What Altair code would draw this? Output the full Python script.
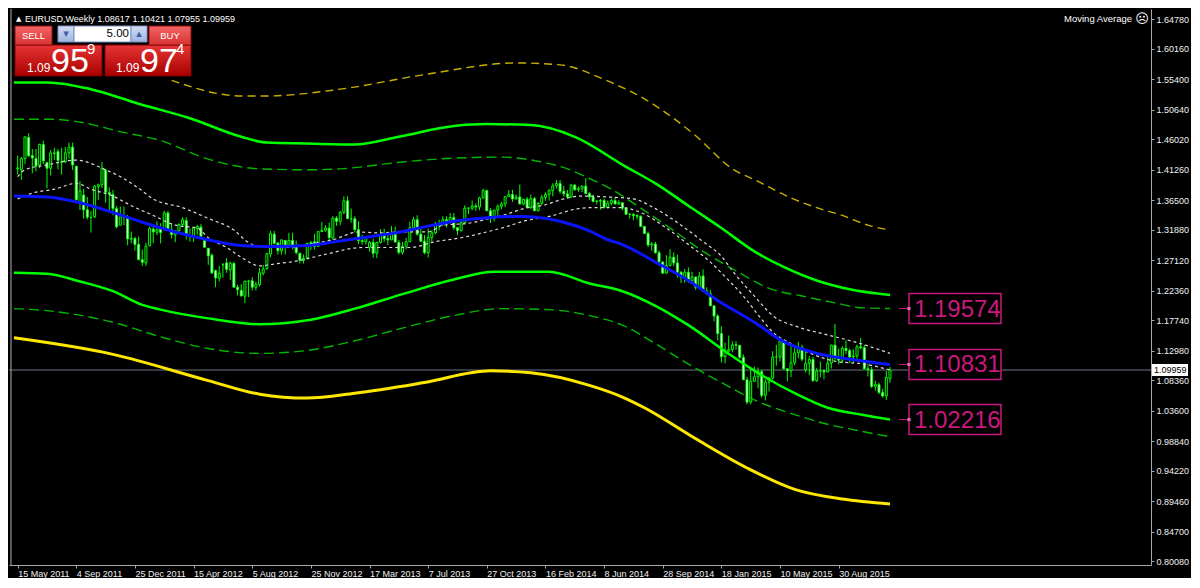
import altair as alt
import numpy as np
import pandas as pd

W, H = 1142, 556
FONT = "Liberation Sans"

SYMBOL = "EURUSD,Weekly"
FIRST_BAR = "2011-05-15"
VIEW_START = "2011-05-08"
VIEW_END = "2017-04-08"
BID = 1.09959
ASK = 1.09974
LOT = "5.00"
INDICATOR = "Moving Average"

# ---------------- weekly candles (Sunday-start weeks) ----------------
OPEN = [
    1.4140, 1.4125, 1.4300, 1.4630, 1.4345, 1.4300, 1.4200, 1.4520, 1.4240, 1.4150,
    1.4380, 1.4410, 1.4250, 1.4250, 1.4390, 1.4480, 1.4180, 1.3600, 1.3730, 1.3500,
    1.3380, 1.3390, 1.3860, 1.3890, 1.4120, 1.3770, 1.3740, 1.3520, 1.3260, 1.3390,
    1.3370, 1.3040, 1.3050,
    1.2960, 1.2720, 1.2670, 1.2940, 1.3200, 1.3150, 1.3200, 1.3200, 1.3450, 1.3190,
    1.3110, 1.3170, 1.3270, 1.3330, 1.3100, 1.3070, 1.3210, 1.3230, 1.3020, 1.2900,
    1.2790, 1.2550, 1.2430, 1.2640, 1.2670, 1.2560, 1.2660, 1.2290, 1.2240, 1.2150,
    1.2380, 1.2390, 1.2290, 1.2330, 1.2510, 1.2580, 1.2810, 1.3120, 1.2980, 1.2860,
    1.3020, 1.2950, 1.3020, 1.2940, 1.2820, 1.2710, 1.2750, 1.2970, 1.3000, 1.2930,
    1.3160, 1.3180, 1.3215,
    1.3060, 1.3370, 1.3320, 1.3460, 1.3640, 1.3360, 1.3360, 1.3190, 1.3020, 1.3000,
    1.2910, 1.2990, 1.2820, 1.2990, 1.3110, 1.3050, 1.3030, 1.3115, 1.2990, 1.2835,
    1.2930, 1.3000, 1.3220, 1.3345, 1.3120, 1.3010, 1.2830, 1.3065, 1.3140, 1.3275,
    1.3280, 1.3345, 1.3325, 1.3380, 1.3220, 1.3175, 1.3300, 1.3525, 1.3525, 1.3560,
    1.3545, 1.3685, 1.3800, 1.3485, 1.3365, 1.3495, 1.3555, 1.3590, 1.3705, 1.3740,
    1.3670, 1.3700,
    1.3590, 1.3665, 1.3535, 1.3675, 1.3485, 1.3600, 1.3695, 1.3740, 1.3800, 1.3875,
    1.3910, 1.3790, 1.3750, 1.3700, 1.3885, 1.3815, 1.3830, 1.3870, 1.3755, 1.3700,
    1.3630, 1.3635, 1.3645, 1.3540, 1.3605, 1.3645, 1.3590, 1.3610, 1.3525, 1.3430,
    1.3430, 1.3410, 1.3400, 1.3240, 1.3130, 1.2950, 1.2965, 1.2830, 1.2685, 1.2510,
    1.2630, 1.2760, 1.2670, 1.2525, 1.2445, 1.2525, 1.2390, 1.2450, 1.2290, 1.2465,
    1.2230, 1.2190,
    1.2000, 1.1840, 1.1565, 1.1205, 1.1290, 1.1315, 1.1390, 1.1380, 1.1195, 1.0845,
    1.0495, 1.0820, 1.0890, 1.0970, 1.0600, 1.0805, 1.0870, 1.1200, 1.1200, 1.1450,
    1.1015, 1.0985, 1.1110, 1.1265, 1.1350, 1.1000, 1.1100, 1.1160, 1.0830, 1.0980,
    1.0985, 1.0965, 1.1105, 1.1385, 1.1180, 1.1150, 1.1335, 1.1300, 1.1200, 1.1215,
    1.1360, 1.1345, 1.1015, 1.1000, 1.0740, 1.0770, 1.0645, 1.0590, 1.08617,
]
HIGH = [
    1.4345, 1.4325, 1.4640, 1.4697, 1.4450, 1.4450, 1.4535, 1.4580, 1.4240, 1.4435,
    1.4470, 1.4450, 1.4470, 1.4480, 1.4550, 1.4550, 1.4190, 1.3950, 1.3830, 1.3700,
    1.3480, 1.3890, 1.3910, 1.4245, 1.4140, 1.3850, 1.3810, 1.3560, 1.3550, 1.3550,
    1.3420, 1.3160, 1.3080,
    1.3080, 1.2880, 1.2985, 1.3235, 1.3235, 1.3320, 1.3290, 1.3485, 1.3485, 1.3290,
    1.3170, 1.3290, 1.3385, 1.3385, 1.3210, 1.3220, 1.3265, 1.3280, 1.3050, 1.2900,
    1.2820, 1.2565, 1.2625, 1.2670, 1.2745, 1.2690, 1.2690, 1.2330, 1.2340, 1.2390,
    1.2405, 1.2445, 1.2380, 1.2590, 1.2640, 1.2820, 1.3170, 1.3170, 1.3000, 1.3035,
    1.3030, 1.3140, 1.3140, 1.3020, 1.2830, 1.2800, 1.2985, 1.3015, 1.3125, 1.3160,
    1.3310, 1.3260, 1.3300,
    1.3400, 1.3400, 1.3480, 1.3710, 1.3710, 1.3520, 1.3400, 1.3320, 1.3110, 1.3090,
    1.3015, 1.3050, 1.3000, 1.3200, 1.3205, 1.3110, 1.3245, 1.3240, 1.3030, 1.3000,
    1.3060, 1.3310, 1.3390, 1.3415, 1.3200, 1.3105, 1.3205, 1.3180, 1.3310, 1.3345,
    1.3400, 1.3400, 1.3450, 1.3450, 1.3225, 1.3350, 1.3570, 1.3540, 1.3645, 1.3600,
    1.3705, 1.3830, 1.3815, 1.3530, 1.3500, 1.3580, 1.3620, 1.3715, 1.3810, 1.3810,
    1.3740, 1.3895,
    1.3675, 1.3700, 1.3740, 1.3700, 1.3620, 1.3735, 1.3775, 1.3825, 1.3915, 1.3965,
    1.3965, 1.3875, 1.3810, 1.3905, 1.3905, 1.3865, 1.3885, 1.3995, 1.3775, 1.3735,
    1.3655, 1.3670, 1.3675, 1.3645, 1.3675, 1.3700, 1.3650, 1.3620, 1.3545, 1.3445,
    1.3445, 1.3435, 1.3410, 1.3240, 1.3160, 1.2995, 1.3000, 1.2865, 1.2690, 1.2790,
    1.2885, 1.2835, 1.2800, 1.2540, 1.2575, 1.2600, 1.2530, 1.2455, 1.2530, 1.2570,
    1.2290, 1.2250,
    1.2000, 1.1870, 1.1680, 1.1425, 1.1535, 1.1445, 1.1450, 1.1390, 1.1240, 1.0890,
    1.1045, 1.1050, 1.1035, 1.1000, 1.0850, 1.0890, 1.1290, 1.1390, 1.1465, 1.1460,
    1.1025, 1.1380, 1.1385, 1.1435, 1.1390, 1.1280, 1.1215, 1.1205, 1.1025, 1.1130,
    1.1000, 1.1215, 1.1390, 1.1715, 1.1330, 1.1370, 1.1460, 1.1330, 1.1320, 1.1390,
    1.1495, 1.1390, 1.1095, 1.1045, 1.0830, 1.0800, 1.0700, 1.0980, 1.10421,
]
LOW = [
    1.4050, 1.3968, 1.4217, 1.4330, 1.4070, 1.4100, 1.4150, 1.4215, 1.3837, 1.4036,
    1.4280, 1.4130, 1.4050, 1.4230, 1.4300, 1.4120, 1.3650, 1.3495, 1.3360, 1.3350,
    1.3145, 1.3370, 1.3655, 1.3840, 1.3610, 1.3480, 1.3420, 1.3210, 1.3260, 1.3260,
    1.2945, 1.2980, 1.2860,
    1.2720, 1.2625, 1.2625, 1.2930, 1.2980, 1.3105, 1.2975, 1.3170, 1.3185, 1.3050,
    1.2995, 1.3140, 1.3230, 1.3035, 1.3003, 1.3000, 1.3110, 1.3040, 1.2910, 1.2640,
    1.2495, 1.2290, 1.2380, 1.2440, 1.2515, 1.2405, 1.2290, 1.2160, 1.2145, 1.2040,
    1.2135, 1.2240, 1.2240, 1.2300, 1.2475, 1.2560, 1.2760, 1.2960, 1.2800, 1.2800,
    1.2800, 1.2930, 1.2880, 1.2800, 1.2660, 1.2660, 1.2740, 1.2870, 1.2880, 1.2925,
    1.3150, 1.3160, 1.3000,
    1.3030, 1.3250, 1.3260, 1.3430, 1.3350, 1.3300, 1.3145, 1.2965, 1.2955, 1.2955,
    1.2845, 1.2750, 1.2745, 1.2975, 1.3000, 1.2950, 1.3025, 1.2995, 1.2800, 1.2800,
    1.2880, 1.3000, 1.3200, 1.3100, 1.3000, 1.2805, 1.2755, 1.3000, 1.3120, 1.3180,
    1.3245, 1.3225, 1.3300, 1.3185, 1.3105, 1.3160, 1.3300, 1.3435, 1.3490, 1.3485,
    1.3495, 1.3680, 1.3480, 1.3295, 1.3320, 1.3400, 1.3510, 1.3540, 1.3700, 1.3625,
    1.3660, 1.3590,
    1.3570, 1.3530, 1.3510, 1.3480, 1.3475, 1.3575, 1.3640, 1.3645, 1.3710, 1.3830,
    1.3750, 1.3705, 1.3670, 1.3690, 1.3795, 1.3780, 1.3775, 1.3750, 1.3650, 1.3615,
    1.3585, 1.3500, 1.3520, 1.3525, 1.3570, 1.3590, 1.3580, 1.3490, 1.3420, 1.3365,
    1.3335, 1.3350, 1.3235, 1.3130, 1.2920, 1.2860, 1.2815, 1.2680, 1.2500, 1.2500,
    1.2615, 1.2620, 1.2440, 1.2355, 1.2360, 1.2360, 1.2360, 1.2245, 1.2270, 1.2220,
    1.2165, 1.2000,
    1.1755, 1.1460, 1.1115, 1.1100, 1.1270, 1.1270, 1.1315, 1.1175, 1.0840, 1.0460,
    1.0460, 1.0810, 1.0710, 1.0565, 1.0520, 1.0660, 1.0850, 1.1065, 1.1130, 1.1005,
    1.0820, 1.0885, 1.1070, 1.1180, 1.1135, 1.0955, 1.0915, 1.0810, 1.0810, 1.0880,
    1.0850, 1.0960, 1.1020, 1.1155, 1.1085, 1.1105, 1.1245, 1.1105, 1.1100, 1.1150,
    1.1320, 1.1005, 1.0895, 1.0710, 1.0675, 1.0620, 1.0565, 1.0525, 1.07955,
]
CLOSE = [
    1.4155, 1.4300, 1.4640, 1.4345, 1.4310, 1.4185, 1.4520, 1.4265, 1.4150, 1.4390,
    1.4390, 1.4270, 1.4240, 1.4390, 1.4480, 1.4200, 1.3655, 1.3795, 1.3500, 1.3385,
    1.3380, 1.3870, 1.3890, 1.4150, 1.3775, 1.3745, 1.3520, 1.3235, 1.3390, 1.3380,
    1.3045, 1.3055, 1.2960,
    1.2720, 1.2680, 1.2930, 1.3210, 1.3155, 1.3190, 1.3145, 1.3450, 1.3200, 1.3115,
    1.3170, 1.3270, 1.3345, 1.3100, 1.3080, 1.3215, 1.3240, 1.3085, 1.2915, 1.2780,
    1.2515, 1.2435, 1.2510, 1.2640, 1.2570, 1.2665, 1.2290, 1.2250, 1.2155, 1.2385,
    1.2385, 1.2290, 1.2335, 1.2515, 1.2575, 1.2815, 1.3125, 1.2975, 1.2860, 1.3030,
    1.2950, 1.3020, 1.2940, 1.2830, 1.2710, 1.2740, 1.2975, 1.2990, 1.2925, 1.3160,
    1.3180, 1.3215, 1.3065,
    1.3370, 1.3320, 1.3460, 1.3640, 1.3365, 1.3360, 1.3190, 1.3020, 1.3005, 1.3075,
    1.2990, 1.2820, 1.2990, 1.3110, 1.3050, 1.3030, 1.3115, 1.2995, 1.2835, 1.2930,
    1.3000, 1.3220, 1.3345, 1.3120, 1.3010, 1.2830, 1.3065, 1.3140, 1.3275, 1.3280,
    1.3345, 1.3325, 1.3380, 1.3220, 1.3175, 1.3300, 1.3525, 1.3525, 1.3560, 1.3545,
    1.3685, 1.3800, 1.3485, 1.3365, 1.3495, 1.3555, 1.3590, 1.3705, 1.3740, 1.3670,
    1.3700, 1.3590,
    1.3665, 1.3535, 1.3675, 1.3485, 1.3600, 1.3695, 1.3740, 1.3800, 1.3875, 1.3910,
    1.3790, 1.3750, 1.3700, 1.3885, 1.3815, 1.3830, 1.3870, 1.3755, 1.3700, 1.3630,
    1.3635, 1.3645, 1.3540, 1.3605, 1.3645, 1.3590, 1.3610, 1.3525, 1.3430, 1.3430,
    1.3410, 1.3400, 1.3240, 1.3130, 1.2950, 1.2965, 1.2830, 1.2685, 1.2510, 1.2630,
    1.2760, 1.2670, 1.2525, 1.2445, 1.2525, 1.2390, 1.2450, 1.2290, 1.2465, 1.2230,
    1.2190, 1.2000,
    1.1840, 1.1565, 1.1205, 1.1290, 1.1315, 1.1390, 1.1380, 1.1195, 1.0845, 1.0495,
    1.0820, 1.0890, 1.0970, 1.0600, 1.0805, 1.0870, 1.1200, 1.1200, 1.1450, 1.1015,
    1.0985, 1.1110, 1.1265, 1.1350, 1.1165, 1.1100, 1.1160, 1.0830, 1.0980, 1.0985,
    1.0965, 1.1105, 1.1385, 1.1180, 1.1150, 1.1335, 1.1300, 1.1200, 1.1215, 1.1360,
    1.1345, 1.1015, 1.1000, 1.0740, 1.0770, 1.0645, 1.0590, 1.0880, 1.09959,
]

# ---------------- indicator lines (week index from FIRST_BAR, price) ----------------
GSU_WEEK = [-1, 8, 20, 33, 47, 61, 68, 79, 92, 104, 119, 128, 140, 152, 166, 174, 183, 192, 201, 209, 218, 227, 238]
GSU_PRICE = [1.5491, 1.5491, 1.5385, 1.5157, 1.4930, 1.4641, 1.4550, 1.4535, 1.4520, 1.4641, 1.4808, 1.4839,
             1.4824, 1.4641, 1.4171, 1.3913, 1.3564, 1.3215, 1.2850, 1.2607, 1.2395, 1.2258, 1.2167]

GDU_WEEK = [-1, 9, 21, 26, 39, 52, 66, 79, 88, 105, 119, 132, 143, 150, 156, 162, 169, 178, 187, 196, 205, 214, 223, 230, 238]
GDU_PRICE = [1.4915, 1.4915, 1.4824, 1.4748, 1.4581, 1.4292, 1.4140, 1.4125, 1.4140, 1.4247, 1.4307, 1.4323,
             1.4247, 1.4140, 1.3989, 1.3822, 1.3564, 1.3215, 1.2850, 1.2547, 1.2273, 1.2152, 1.2046, 1.1970, 1.1957]

MA_WEEK = [-1, 8, 17, 26, 34, 43, 52, 61, 70, 79, 85, 94, 103, 112, 121, 129, 138, 144, 149, 156, 161, 165,
           174, 183, 192, 201, 209, 218, 227, 238]
MA_PRICE = [1.3715, 1.3700, 1.3609, 1.3457, 1.3306, 1.3154, 1.3032, 1.2941, 1.2926, 1.2941, 1.2987, 1.3063,
            1.3139, 1.3245, 1.3336, 1.3381, 1.3397, 1.3366, 1.3306, 1.3169, 1.3032, 1.2957, 1.2683, 1.2395,
            1.2046, 1.1742, 1.1439, 1.1256, 1.1165, 1.1083]

GSL_WEEK = [-1, 8, 17, 26, 34, 39, 52, 66, 79, 92, 105, 119, 130, 145, 156, 165, 174, 183, 194, 203, 212, 221, 230, 238]
GSL_PRICE = [1.2516, 1.2501, 1.2380, 1.2228, 1.2015, 1.1940, 1.1803, 1.1712, 1.1773, 1.1955, 1.2182, 1.2410,
             1.2531, 1.2531, 1.2349, 1.2228, 1.2000, 1.1697, 1.1250, 1.0915, 1.0634, 1.0406, 1.0300, 1.0222]

GDL_WEEK = [-1, 8, 26, 39, 52, 66, 79, 92, 105, 119, 132, 145, 156, 165, 174, 183, 192, 201, 212, 221, 230, 238]
GDL_PRICE = [1.1955, 1.1924, 1.1742, 1.1515, 1.1332, 1.1256, 1.1302, 1.1454, 1.1651, 1.1848, 1.1955, 1.1940,
             1.1848, 1.1697, 1.1408, 1.1089, 1.0801, 1.0528, 1.0300, 1.0148, 1.0042, 0.9951]

YSL_WEEK = [-1, 26, 52, 66, 79, 92, 111, 129, 140, 156, 165, 171, 185, 199, 212, 225, 238]
YSL_PRICE = [1.1499, 1.1241, 1.0831, 1.0619, 1.0558, 1.0634, 1.0801, 1.0983, 1.0953, 1.0756, 1.0573, 1.0406,
             0.9921, 0.9465, 0.9131, 0.8980, 0.8904]

YDU_WEEK = [42, 61, 68, 88, 111, 136, 148, 160, 171, 185, 195, 202, 211, 218, 225, 232, 238]
YDU_PRICE = [1.5522, 1.5279, 1.5279, 1.5385, 1.5613, 1.5795, 1.5765, 1.5537, 1.5233, 1.4657, 1.4140, 1.3943,
             1.3685, 1.3533, 1.3412, 1.3260, 1.3184]

WDU_WEEK = [0, 2, 8, 16, 24, 28, 33, 37, 45, 52, 59, 63, 66, 74, 79, 86, 93, 98, 105, 112, 116, 123, 129, 134,
            138, 144, 149, 154, 161, 168, 174, 181, 187, 192, 195, 201, 206, 213, 220, 230, 238]
WDU_PRICE = [1.4019, 1.4125, 1.4201, 1.4277, 1.4125, 1.4019, 1.3837, 1.3670, 1.3533, 1.3366, 1.3184, 1.2987,
             1.2926, 1.2911, 1.2957, 1.3032, 1.3154, 1.3139, 1.3154, 1.3154, 1.3260, 1.3290, 1.3366, 1.3442,
             1.3518, 1.3579, 1.3670, 1.3715, 1.3700, 1.3670, 1.3518, 1.3260, 1.3002, 1.2774, 1.2547, 1.2152,
             1.1848, 1.1666, 1.1560, 1.1408, 1.1256]

WDL_WEEK = [0, 4, 10, 16, 20, 26, 31, 37, 43, 49, 52, 57, 61, 66, 70, 76, 84, 94, 107, 114, 121, 128, 133, 138,
            145, 153, 156, 165, 170, 177, 183, 189, 193, 198, 203, 206, 211, 217, 223, 231, 238]
WDL_PRICE = [1.3670, 1.3761, 1.3822, 1.3913, 1.3822, 1.3715, 1.3564, 1.3412, 1.3260, 1.3215, 1.3063, 1.2911,
             1.2759, 1.2623, 1.2653, 1.2698, 1.2805, 1.2911, 1.2911, 1.3002, 1.3063, 1.3154, 1.3230, 1.3321,
             1.3397, 1.3518, 1.3533, 1.3533, 1.3457, 1.3215, 1.2957, 1.2683, 1.2456, 1.2152, 1.1788, 1.1590,
             1.1408, 1.1241, 1.1135, 1.1089, 1.0998]

LABEL_VALUES = [1.19574, 1.10831, 1.02216]

X_TICKS = ["2011-05-15", "2011-09-04", "2011-12-25", "2012-04-15", "2012-08-05", "2012-11-25",
           "2013-03-17", "2013-07-07", "2013-10-27", "2014-02-16", "2014-06-08", "2014-09-28",
           "2015-01-18", "2015-05-10", "2015-08-30"]
Y_TICKS = [1.64780, 1.60160, 1.55400, 1.50640, 1.46020, 1.41260, 1.36500, 1.31880, 1.27120, 1.22360,
           1.17740, 1.12980, 1.08360, 1.03600, 0.98840, 0.94220, 0.89460, 0.84700, 0.80080]
PRICE_MIN, PRICE_MAX = 0.7949, 1.6638


# ---------------- helpers ----------------
def dt(s):
    y, m, d = (int(v) for v in s.split("-"))
    return alt.DateTime(year=y, month=m, date=d)


T0 = pd.Timestamp(FIRST_BAR)


def week_dates(weeks):
    return T0 + pd.to_timedelta(np.array(weeks) * 7, unit="D")


AX_TXT = "#f0f0f0"
AX_LINE = "#a8a8a8"

x_axis = alt.Axis(values=[dt(s) for s in X_TICKS], format="%-d %b %Y", labelAlign="left",
                  labelColor=AX_TXT, labelFont=FONT, labelFontSize=9, labelPadding=1,
                  tickSize=3, tickColor=AX_LINE, domainColor=AX_LINE, grid=False,
                  labelOverlap=False, labelFlush=False)
x_scale = alt.Scale(domain=[dt(VIEW_START), dt(VIEW_END)])
y_axis = alt.Axis(orient="right", values=Y_TICKS, format=".5f", labelColor=AX_TXT, labelFont=FONT,
                  labelFontSize=9, labelPadding=2, tickSize=3, tickColor=AX_LINE,
                  domainColor=AX_LINE, grid=False, labelOverlap=False, labelFlush=False)
y_scale = alt.Scale(domain=[PRICE_MIN, PRICE_MAX], nice=False, zero=False)


def xa():
    return alt.X("date:T", title=None, scale=x_scale, axis=x_axis)


def ya(field):
    return alt.Y(f"{field}:Q", title=None, scale=y_scale, axis=y_axis)


bars = pd.DataFrame({"date": pd.date_range(FIRST_BAR, periods=len(CLOSE), freq="7D"),
                     "open": OPEN, "high": HIGH, "low": LOW, "close": CLOSE})
last = bars.tail(1).copy()

layers = []

# current price line
layers.append(alt.Chart(last).mark_rule(color="#6c7484", strokeWidth=1).encode(y=ya("close")))

# candles
bull = "datum.close >= datum.open"
layers.append(alt.Chart(bars).mark_rule(color="#00ff00", strokeWidth=1).encode(
    x=xa(), y=ya("low"), y2=alt.Y2("high")))
layers.append(alt.Chart(bars).mark_bar(size=2, strokeWidth=1, stroke="#00ff00").encode(
    x=xa(), y=ya("open"), y2=alt.Y2("close"),
    fill=alt.condition(bull, alt.value("#000000"), alt.value("#ffffff"))))

# indicator lines
LINES = [
    (WDU_WEEK, WDU_PRICE, dict(color="#dcdcdc", strokeWidth=1.2, strokeDash=[3, 3])),
    (WDL_WEEK, WDL_PRICE, dict(color="#dcdcdc", strokeWidth=1.2, strokeDash=[3, 3])),
    (GDU_WEEK, GDU_PRICE, dict(color="#00b800", strokeWidth=1.4, strokeDash=[10, 5])),
    (GDL_WEEK, GDL_PRICE, dict(color="#00b800", strokeWidth=1.4, strokeDash=[10, 5])),
    (YDU_WEEK, YDU_PRICE, dict(color="#c8b000", strokeWidth=1.4, strokeDash=[8, 5])),
    (GSU_WEEK, GSU_PRICE, dict(color="#00ff00", strokeWidth=2.5)),
    (GSL_WEEK, GSL_PRICE, dict(color="#00ff00", strokeWidth=2.5)),
    (YSL_WEEK, YSL_PRICE, dict(color="#ffe800", strokeWidth=3)),
    (MA_WEEK, MA_PRICE, dict(color="#0a14ff", strokeWidth=3)),
]
for weeks, prices, style in LINES:
    df = pd.DataFrame({"date": week_dates(weeks), "price": prices})
    layers.append(alt.Chart(df).mark_line(clip=True, interpolate="monotone", **style).encode(
        x=xa(), y=ya("price")))

# magenta price labels at the right end of the bands
MAG = "#c8197f"
labels = pd.DataFrame({"date": [bars["date"].iloc[-1]] * len(LABEL_VALUES), "value": LABEL_VALUES,
                       "text": [f"{v:.5f}" for v in LABEL_VALUES]})
layers.append(alt.Chart(labels).mark_rule(color=MAG, strokeWidth=1, xOffset=9, x2Offset=19).encode(
    x=xa(), x2=alt.X2("date"), y=ya("value")))
layers.append(alt.Chart(labels).mark_rect(fill="#000000", stroke=MAG, strokeWidth=1.5,
                                          xOffset=19, x2Offset=111, yOffset=-15, y2Offset=15).encode(
    x=xa(), x2=alt.X2("date"), y=ya("value"), y2=alt.Y2("value")))
layers.append(alt.Chart(labels).mark_point(shape="square", size=10, filled=True, color="#e070b0",
                                           xOffset=19, opacity=1).encode(x=xa(), y=ya("value")))
layers.append(alt.Chart(labels).mark_text(align="left", baseline="middle", dx=24, dy=1, fontSize=24,
                                          font=FONT, color=MAG).encode(
    x=xa(), y=ya("value"), text="text:N"))

# current price tag on the axis
layers.append(alt.Chart(last).mark_rect(fill="#ffffff", yOffset=-6, y2Offset=6).encode(
    x=alt.value(W + 1), x2=alt.value(W + 37), y=ya("close"), y2=alt.Y2("close")))
layers.append(alt.Chart(last).mark_text(align="left", baseline="middle", fontSize=9, font=FONT,
                                        color="#000000").encode(
    x=alt.value(W + 3), y=ya("close"), text=alt.Text("close:Q", format=".5f")))

# ---------------- terminal furniture ----------------
ONE = pd.DataFrame({"k": [0]})


def grad(top, bottom):
    return alt.LinearGradient(gradient="linear", x1=0, x2=0, y1=0, y2=1,
                              stops=[alt.GradientStop(color=top, offset=0),
                                     alt.GradientStop(color=bottom, offset=1)])


def box(x0, y0, x1, y1, fill, stroke=None):
    kw = {"fill": fill}
    if stroke:
        kw.update(stroke=stroke, strokeWidth=1)
    return alt.Chart(ONE).mark_rect(**kw).encode(
        x=alt.value(x0), x2=alt.value(x1), y=alt.value(y0), y2=alt.value(y1))


def txt(x, y, text, size, color="#ffffff", align="left", baseline="alphabetic", font=FONT):
    return alt.Chart(ONE).mark_text(text=text, fontSize=size, color=color, align=align,
                                    baseline=baseline, font=font).encode(x=alt.value(x), y=alt.value(y))


bid_s, ask_s = f"{BID:.5f}", f"{ASK:.5f}"
header = f"{SYMBOL}  {OPEN[-1]:.5f} {HIGH[-1]:.5f} {LOW[-1]:.5f} {CLOSE[-1]:.5f}"

layers += [
    alt.Chart(ONE).mark_rule(color="#b0b0b0", strokeWidth=1).encode(x=alt.value(2)),
    txt(7, 10, "▲", 7, baseline="middle", font="DejaVu Sans"),
    txt(16, 10, header, 9, baseline="middle"),
    txt(W - 19, 10, INDICATOR, 9.5, align="right", baseline="middle"),
    txt(W - 9, 10, "☹", 13, align="center", baseline="middle", font="DejaVu Sans"),
    # sell / buy panels
    box(6, 36, 93, 67, grad("#e83434", "#a80000"), "#7a0000"),
    box(96, 36, 182, 67, grad("#e83434", "#a80000"), "#7a0000"),
    box(6, 17, 43, 36, grad("#f26464", "#d83232"), "#8a1010"),
    box(140, 17, 182, 36, grad("#f26464", "#d83232"), "#8a1010"),
    box(49, 17, 65, 33, grad("#d4def4", "#9fb4e0"), "#7890c0"),
    box(65, 17, 122, 33, "#ffffff", "#7890c0"),
    box(122, 17, 138, 33, grad("#d4def4", "#9fb4e0"), "#7890c0"),
    txt(24.5, 26.5, "SELL", 9.5, align="center", baseline="middle"),
    txt(161, 26.5, "BUY", 9.5, align="center", baseline="middle"),
    txt(57, 25, "▾", 11, "#4060a0", align="center", baseline="middle", font="DejaVu Sans"),
    txt(130, 25, "▴", 11, "#4060a0", align="center", baseline="middle", font="DejaVu Sans"),
    txt(120, 25, LOT, 11.5, "#000000", align="right", baseline="middle"),
    txt(18, 63, bid_s[:4], 12),
    txt(42, 63, bid_s[4:6], 34),
    txt(78, 45, bid_s[6], 15),
    txt(107, 63, ask_s[:4], 12),
    txt(131, 63, ask_s[4:6], 34),
    txt(167, 45, ask_s[6], 15),
]

chart = alt.layer(*layers).properties(
    width=W, height=H, background="#000000",
    padding={"left": 0, "top": 0, "right": 2, "bottom": 0},
).configure_view(stroke=None)

chart.save("out.html", embed_options={"renderer": "svg", "actions": False})
